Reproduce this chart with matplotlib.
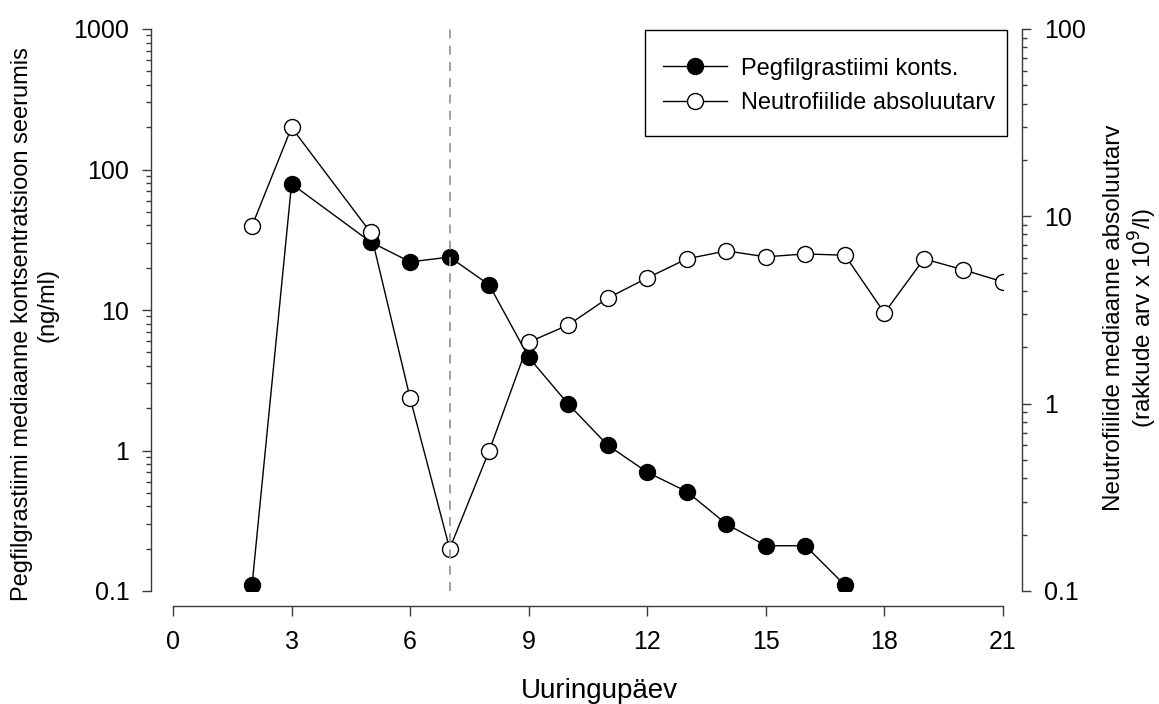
import matplotlib
matplotlib.use("Agg")
import matplotlib.pyplot as plt
from matplotlib.patches import Rectangle
from matplotlib.ticker import LogLocator, NullFormatter, FuncFormatter

plt.rcParams['font.family'] = ['Liberation Sans', 'DejaVu Sans']

# pegfilgrastim median serum concentration (ng/ml), left axis
peg_days = [2, 3, 5, 6, 7, 8, 9, 10, 11, 12, 13, 14, 15, 16, 17]
peg_conc = [0.11, 79, 30.5, 22, 23.8, 15.1, 4.6, 2.14, 1.09, 0.70, 0.51, 0.30, 0.21, 0.21, 0.11]

# median absolute neutrophil count (10^9/l), right axis
anc_days = [2, 3, 5, 6, 7, 8, 9, 10, 11, 12, 13, 14, 15, 16, 17, 18, 19, 20, 21]
anc_vals = [8.9, 29.8, 8.2, 1.07, 0.168, 0.56, 2.13, 2.63, 3.66, 4.69, 5.93,
            6.54, 6.08, 6.3, 6.2, 3.05, 5.93, 5.18, 4.47]

dose_day = 7
x_ticks = [0, 3, 6, 9, 12, 15, 18, 21]

W, H = 1159, 704
fig = plt.figure(figsize=(W / 100, H / 100), dpi=100)
ax = fig.add_axes([173 / W, 1 - 591 / H, 830 / W, 562 / H])
ax2 = ax.twinx()

spine_col = '#3a3a3a'
tick_fs = 18
fs = 17


def fmt(v, pos):
    return '%g' % v


# left axis
ax.plot(peg_days, peg_conc, '-o', color='black', lw=1.0, ms=11.5,
        mfc='black', mec='black', label='Pegfilgrastiimi konts.')
ax.set_yscale('log')
ax.set_ylim(0.1, 1000)
ax.set_xlim(0, 21)
ax.set_xticks(x_ticks)
ax.yaxis.set_major_locator(LogLocator(base=10, numticks=10))
ax.yaxis.set_minor_locator(LogLocator(base=10, subs=range(2, 10), numticks=20))
ax.yaxis.set_major_formatter(FuncFormatter(fmt))
ax.yaxis.set_minor_formatter(NullFormatter())

# right axis
ax2.plot(anc_days, anc_vals, '-o', color='black', lw=1.0, ms=11.5,
         mfc='white', mec='black', mew=1.0, label='Neutrofiilide absoluutarv')
ax2.set_yscale('log')
ax2.set_ylim(0.1, 100)
ax2.yaxis.set_major_locator(LogLocator(base=10, numticks=10))
ax2.yaxis.set_minor_locator(LogLocator(base=10, subs=range(2, 10), numticks=20))
ax2.yaxis.set_major_formatter(FuncFormatter(fmt))
ax2.yaxis.set_minor_formatter(NullFormatter())

ax2.axvline(dose_day, color='#999999', lw=1.3, linestyle=(0, (5, 4)), zorder=5)

# spines
for s in ['top', 'right']:
    ax.spines[s].set_visible(False)
for s in ['top', 'left', 'bottom']:
    ax2.spines[s].set_visible(False)
ax.spines['left'].set_position(('outward', 16))
ax.spines['bottom'].set_position(('outward', 11))
ax2.spines['right'].set_position(('outward', 14))
for sp in [ax.spines['left'], ax.spines['bottom'], ax2.spines['right']]:
    sp.set_color(spine_col)
    sp.set_linewidth(1.0)

ax.tick_params(axis='x', which='major', length=7, width=1, color=spine_col,
               pad=10, labelsize=tick_fs)
ax.tick_params(axis='y', which='major', length=6.5, width=1, color=spine_col,
               pad=9, labelsize=tick_fs)
ax.tick_params(axis='y', which='minor', length=3.3, width=1, color=spine_col)
ax2.tick_params(axis='y', which='major', length=6.5, width=1, color=spine_col,
                pad=9, labelsize=tick_fs)
ax2.tick_params(axis='y', which='minor', length=3.3, width=1, color=spine_col)

# axis labels
fig.text(22 / W, 1 - 324 / H, 'Pegfilgrastiimi mediaanne kontsentratsioon seerumis',
         rotation=90, ha='center', va='center', fontsize=fs)
fig.text(47 / W, 1 - 305 / H, '(ng/ml)',
         rotation=90, ha='center', va='center', fontsize=fs)
fig.text(1131 / W, 1 - 318 / H,
         'Neutrofiilide mediaanne absoluutarv\n(rakkude arv x 10$^9$/l)',
         rotation=90, ha='center', va='center', multialignment='center',
         linespacing=1.05, fontsize=17.5)
fig.text(599 / W, 1 - 698 / H, 'Uuringupäev', ha='center', va='baseline', fontsize=20)

# legend with a hand-placed frame
h1, l1 = ax.get_legend_handles_labels()
h2, l2 = ax2.get_legend_handles_labels()
leg = ax2.legend(h1 + h2, l1 + l2, loc='center left',
                 bbox_to_anchor=(663 / W, 1 - 86 / H), bbox_transform=fig.transFigure,
                 fontsize=fs, frameon=False, borderpad=0, labelspacing=0.55,
                 handlelength=2.7, handletextpad=0.6, borderaxespad=0)
frame = Rectangle((645 / W, 1 - 136 / H), 362 / W, 106 / H, transform=fig.transFigure,
                  fill=False, edgecolor='black', lw=1.0)
fig.add_artist(frame)

fig.savefig('out.png', dpi=100)
